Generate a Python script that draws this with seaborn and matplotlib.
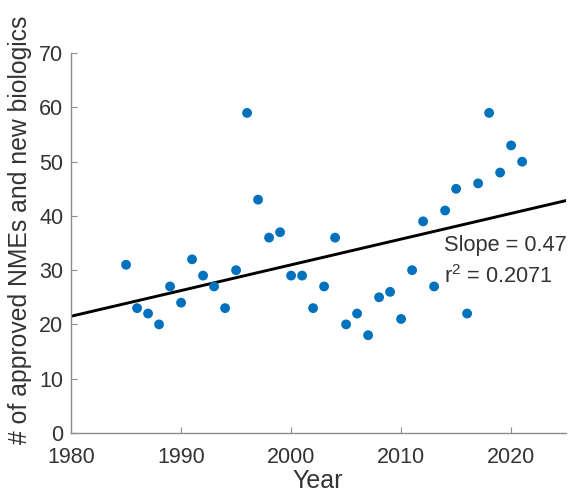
import matplotlib
matplotlib.use("Agg")
import matplotlib.pyplot as plt
import seaborn as sns
import numpy as np
import pandas as pd

years = list(range(1985, 2022))
approvals = [31, 23, 22, 20, 27, 24, 32, 29, 27, 23,
             30, 59, 43, 36, 37, 29, 29, 23, 27, 36,
             20, 22, 18, 25, 26, 21, 30, 39, 27, 41,
             45, 22, 46, 59, 48, 53, 50]
slope_label = "Slope = 0.47"
r2_label = "r$^2$ = 0.2071"
xticks = [1980, 1990, 2000, 2010, 2020]
yticks = [0, 10, 20, 30, 40, 50, 60, 70]

df = pd.DataFrame({"Year": years, "n": approvals})

sns.set_style("white")
plt.rcParams['font.family'] = ['Liberation Sans', 'DejaVu Sans']
plt.rcParams['mathtext.fontset'] = 'custom'
plt.rcParams['mathtext.rm'] = 'Liberation Sans'
txt = '#333333'

fig = plt.figure(figsize=(5.73, 4.93), dpi=100)
ax = fig.add_axes([0.124, 0.122, 0.864, 0.770])
ax.set_xlim(1980, 2025)
ax.set_ylim(0, 70)
sns.regplot(data=df, x="Year", y="n", ax=ax, ci=None, truncate=False,
            scatter_kws=dict(s=50, color='#0072BD', edgecolor='none', alpha=1, zorder=3),
            line_kws=dict(color='black', lw=2.1, zorder=2))
ax.set_xlim(1980, 2025)
ax.set_ylim(0, 70)
ax.set_xticks(xticks)
ax.set_yticks(yticks)
for s in ['top', 'right']:
    ax.spines[s].set_visible(False)
for s in ['left', 'bottom']:
    ax.spines[s].set_color('#8c8c8c')
    ax.spines[s].set_linewidth(1.0)
ax.tick_params(direction='in', length=4, width=0.8, color='#8c8c8c',
               labelsize=15.5, labelcolor=txt, left=True, bottom=True)
ax.tick_params(axis='x', pad=10)
ax.tick_params(axis='y', pad=5.5)
ax.set_xlabel("Year", fontsize=18, color=txt)
ax.set_ylabel("# of approved NMEs and new biologics", fontsize=17.8, color=txt)
ax.xaxis.set_label_coords(0.498, -0.094)
ax.yaxis.set_label_coords(-0.078, 0.534)
ax.text(2013.9, 34.6, slope_label, fontsize=15.7, color=txt, va='center', ha='left')
ax.text(2013.9, 28.9, r2_label, fontsize=15.7, color=txt, va='center', ha='left')
fig.savefig("out.png", dpi=100)
